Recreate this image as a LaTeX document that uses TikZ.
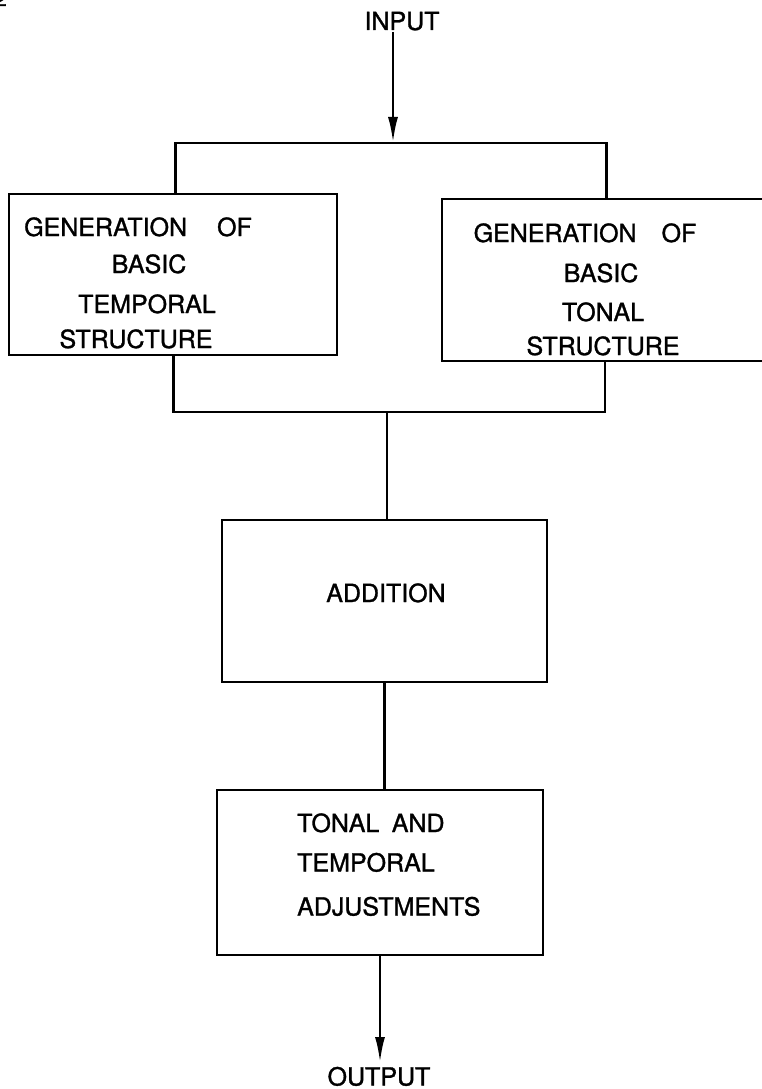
\documentclass[tikz,border=0pt]{standalone}
\usepackage{fontspec}
\setmainfont{TeX Gyre Heros}[FakeBold=1.2]
\usetikzlibrary{arrows.meta}
\begin{document}
\begin{tikzpicture}[x=1pt,y=-1pt,
  wire/.style={line width=2.8pt, line cap=rect},
  arr/.style={line width=2.8pt, -{Latex[length=26pt,width=10pt]}},
  blockbox/.style={draw, line width=2.8pt, rectangle, inner sep=0pt},
  lbl/.style={font=\fontsize{25}{25}\selectfont, inner sep=0pt, anchor=base},
  lbll/.style={font=\fontsize{25}{25}\selectfont, inner sep=0pt, anchor=base west}]
\useasboundingbox (0,0) rectangle (761,1089);
\fill[white] (0,0) rectangle (761,1089);
% partial page number
\node[font=\fontsize{20}{20}\selectfont, inner sep=0pt, anchor=base east] (pg) at (7,6) {2};
% boxes
\node[blockbox, minimum width=328pt, minimum height=161pt] (lbox) at (173,274.5) {};
\node[blockbox, minimum width=348pt, minimum height=162pt] (rbox) at (616,280) {};
\node[blockbox, minimum width=325pt, minimum height=162pt] (addbox) at (384.5,601) {};
\node[blockbox, minimum width=326pt, minimum height=165pt] (tabox) at (380,872.5) {};
% texts
\node[lbl] (input) at (402,30) {INPUT};
\node[lbl] (l1) at (138,236) {GENERATION\hspace{1.2em}OF};
\node[lbl] (l2) at (149,273) {BASIC};
\node[lbl] (l3) at (147,313) {TEMPORAL};
\node[lbl] (l4) at (136,348) {STRUCTURE};
\node[lbl] (r1) at (585,242) {GENERATION\hspace{1em}OF};
\node[lbl] (r2) at (601,282) {BASIC};
\node[lbl] (r3) at (603,321) {TONAL};
\node[lbl] (r4) at (603,355) {STRUCTURE};
\node[lbl] (addtxt) at (386,602) {ADDITION};
\node[lbll] (t1) at (297,832) {TONAL\hspace{0.5em}AND};
\node[lbll] (t2) at (297,871.5) {TEMPORAL};
\node[lbll] (t3) at (297,915.5) {ADJUSTMENTS};
\node[lbl] (output) at (379,1085.5) {OUTPUT};
% connector points
\coordinate (inbot) at (393,32);
\coordinate (split) at (393,143);
\coordinate (tl) at (175.5,143);
\coordinate (tr) at (606.5,143);
\coordinate (bl) at (173.5,412);
\coordinate (br) at (605,412);
\coordinate (bm) at (387,412);
\coordinate (outtip) at (380,1063);
% connectors
\draw[arr] (inbot) -- (split);
\draw[wire] (tl) -- (tr);
\draw[wire] (tl) -- (tl |- lbox.north);
\draw[wire] (tr) -- (tr |- rbox.north);
\draw[wire] (bl |- lbox.south) -- (bl) -- (br) -- (br |- rbox.south);
\draw[wire] (bm) -- (bm |- addbox.north);
\draw[wire] (addbox.south) -- (addbox.south |- tabox.north);
\draw[arr] (tabox.south) -- (outtip);
\end{tikzpicture}
\end{document}
